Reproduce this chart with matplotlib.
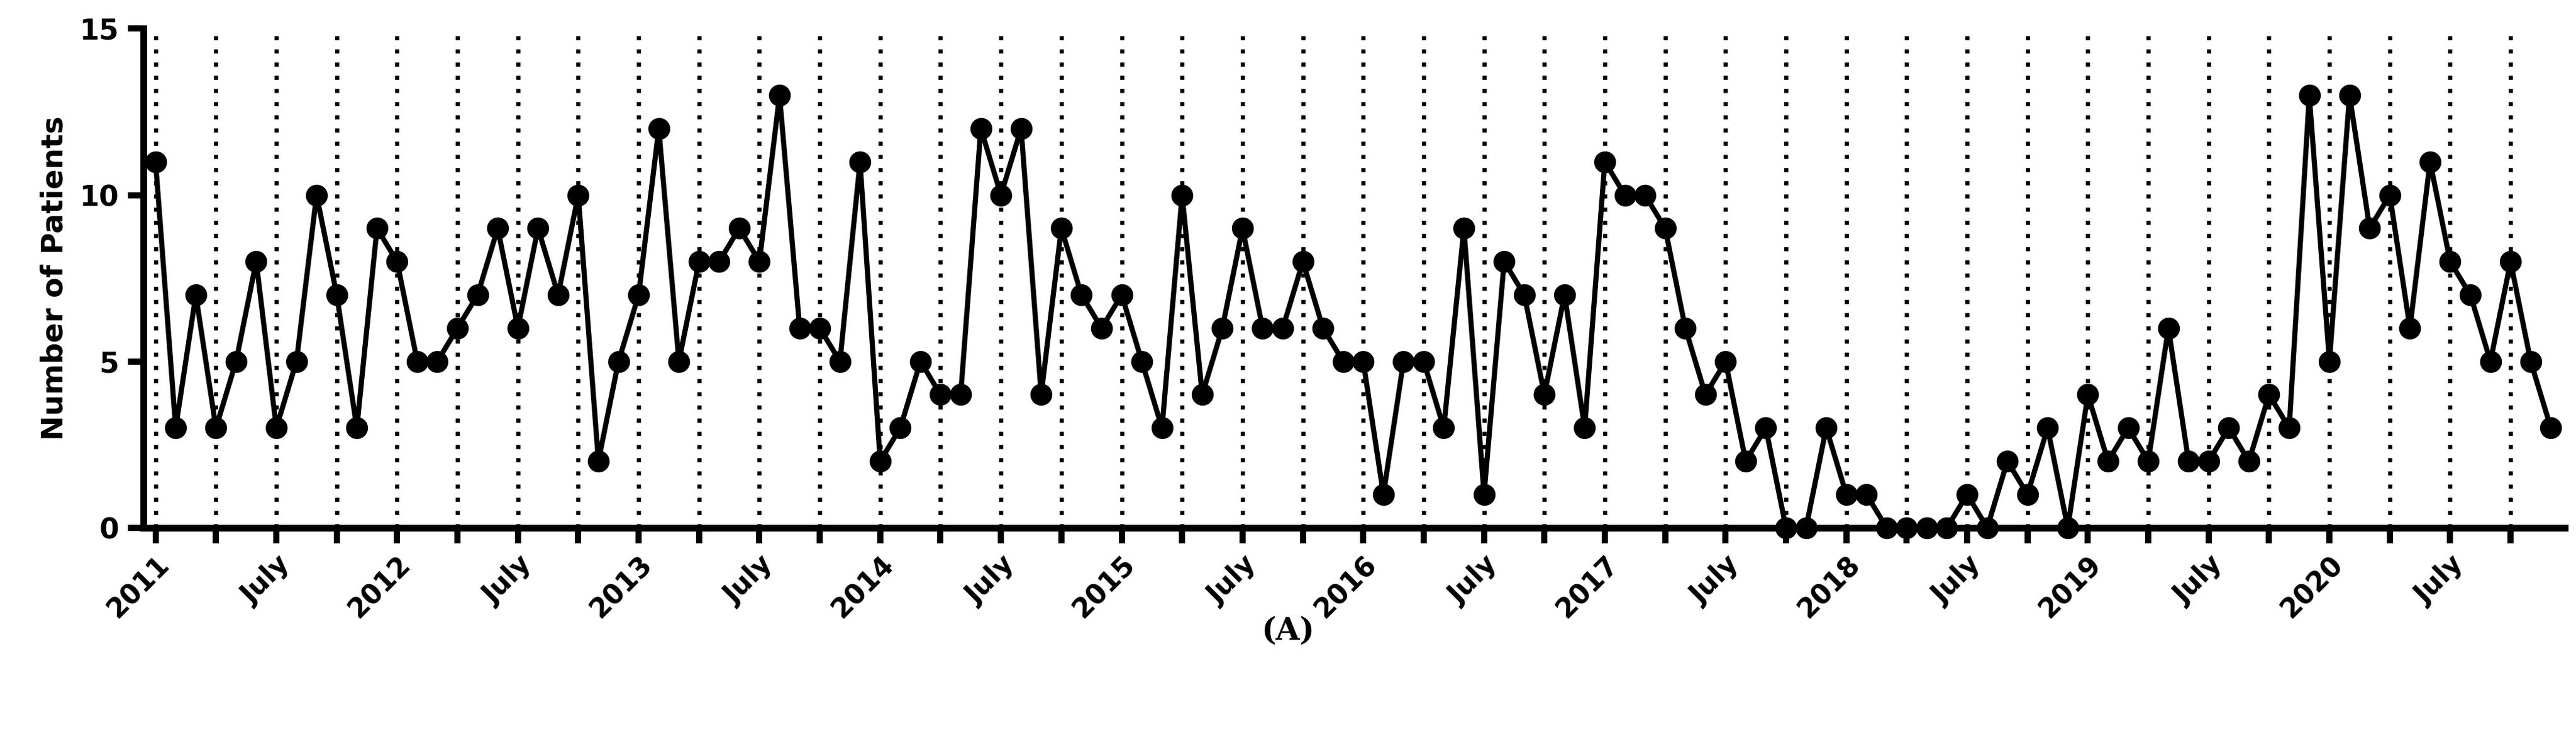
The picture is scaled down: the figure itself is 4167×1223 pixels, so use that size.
import matplotlib
matplotlib.use('Agg')
import matplotlib.pyplot as plt
import numpy as np

# monthly counts, Jan 2011 .. Dec 2020
y2011 = [11, 3, 7, 3, 5, 8, 3, 5, 10, 7, 3, 9]
y2012 = [8, 5, 5, 6, 7, 9, 6, 9, 7, 10, 2, 5]
y2013 = [7, 12, 5, 8, 8, 9, 8, 13, 6, 6, 5, 11]
y2014 = [2, 3, 5, 4, 4, 12, 10, 12, 4, 9, 7, 6]
y2015 = [7, 5, 3, 10, 4, 6, 9, 6, 6, 8, 6, 5]
y2016 = [5, 1, 5, 5, 3, 9, 1, 8, 7, 4, 7, 3]
y2017 = [11, 10, 10, 9, 6, 4, 5, 2, 3, 0, 0, 3]
y2018 = [1, 1, 0, 0, 0, 0, 1, 0, 2, 1, 3, 0]
y2019 = [4, 2, 3, 2, 6, 2, 2, 3, 2, 4, 3, 13]
y2020 = [5, 13, 9, 10, 6, 11, 8, 7, 5, 8, 5, 3]
years = ['2011', '2012', '2013', '2014', '2015', '2016', '2017', '2018', '2019', '2020']

counts = np.array(y2011 + y2012 + y2013 + y2014 + y2015 + y2016 + y2017 + y2018 + y2019 + y2020)
months = np.arange(len(counts))

fig = plt.figure(figsize=(4167/300, 1223/300), dpi=300)
ax = fig.add_axes([0.0557, 0.302, 0.94, 0.66])

# quarterly dotted lines
for q in range(0, 120, 3):
    ax.axvline(q, color='black', linestyle=(0, (1, 2.2)), linewidth=1.6, zorder=1)

ax.plot(months, counts, color='black', linewidth=2.0, marker='o', markersize=7.5, zorder=3, clip_on=False)

ax.set_xlim(-0.6, 119.7)
ax.set_ylim(0, 15)
ax.set_yticks([0, 5, 10, 15])
ticks = list(range(0, 120, 3))
labels = []
for t in ticks:
    if t % 12 == 0:
        labels.append(years[t // 12])
    elif t % 12 == 6:
        labels.append('July')
    else:
        labels.append('')
ax.set_xticks(ticks)
ax.set_xticklabels(labels, rotation=45, ha='right', rotation_mode='anchor', fontweight='bold', fontsize=10.5)
for lab in ax.get_yticklabels():
    lab.set_fontweight('bold')
    lab.set_fontsize(11)
ax.tick_params(axis='both', width=2.4, length=6, direction='out')
ax.tick_params(axis='x', pad=3)

for s in ['top', 'right']:
    ax.spines[s].set_visible(False)
for s in ['left', 'bottom']:
    ax.spines[s].set_linewidth(2.6)

ax.set_ylabel('Number of Patients', fontweight='bold', fontsize=11.5)

fig.text(0.5, 0.165, '(A)', ha='center', va='center', family='DejaVu Serif', fontweight='bold', fontsize=12)

fig.savefig('out.png', dpi=300)
